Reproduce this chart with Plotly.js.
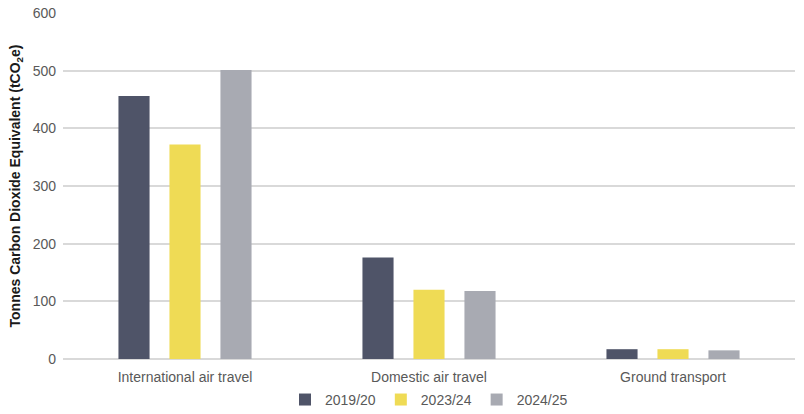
<!DOCTYPE html>
<html>
<head>
<meta charset="utf-8">
<script src="https://cdn.plot.ly/plotly-3.0.1.min.js"></script>
<style>html,body{margin:0;padding:0;background:#fff;}#chart{width:804px;height:414px;}</style>
</head>
<body>
<div id="chart"></div>
<script>
const categories = ["International air travel", "Domestic air travel", "Ground transport"];
const seriesNames = ["2019/20", "2023/24", "2024/25"];
const values2019 = [456, 176, 17];
const values2023 = [372, 120, 17];
const values2024 = [501, 118, 15];
const colors = ["#4f5468", "#efdb55", "#a8aab2"];

const allValues = [values2019, values2023, values2024];
const traces = allValues.map((v, i) => ({
  type: "bar",
  name: seriesNames[i],
  x: categories,
  y: v,
  marker: {color: colors[i]},
  hoverinfo: "x+y+name"
}));

const layout = {
  width: 804, height: 414,
  margin: {l: 63, r: 9, t: 13, b: 55, autoexpand: false},
  paper_bgcolor: "#fff", plot_bgcolor: "#fff",
  font: {family: "Liberation Sans, Arial, sans-serif", size: 14, color: "#595959"},
  barmode: "group",
  bargap: 0.373,
  bargroupgap: 0.39,
  xaxis: {
    showgrid: false, zeroline: false, showline: false,
    ticks: "", tickfont: {size: 14, color: "#595959"}, automargin: false,
    ticklabelstandoff: 8
  },
  yaxis: {
    range: [0, 600], dtick: 100,
    showgrid: true, gridcolor: "#d9d9d9", gridwidth: 2,
    zeroline: true, zerolinecolor: "#d9d9d9", zerolinewidth: 2,
    tickfont: {size: 14, color: "#595959"},
    ticklabelstandoff: 6, automargin: false,
    title: {text: "Tonnes Carbon Dioxide Equivalent (tCO<sub>2</sub>e)", font: {size: 14, color: "#1a1a1a", weight: "bold"}, standoff: 8}
  },
  legend: {
    orientation: "h", x: 0.5, xanchor: "center", xref: "paper",
    y: 0.034, yanchor: "middle", yref: "container",
    font: {size: 14, color: "#595959"}, itemwidth: 30, traceorder: "normal",
    tracegroupgap: 0
  },
  showlegend: true
};

Plotly.newPlot("chart", traces, layout, {displayModeBar: false, staticPlot: true});
</script>
</body>
</html>
